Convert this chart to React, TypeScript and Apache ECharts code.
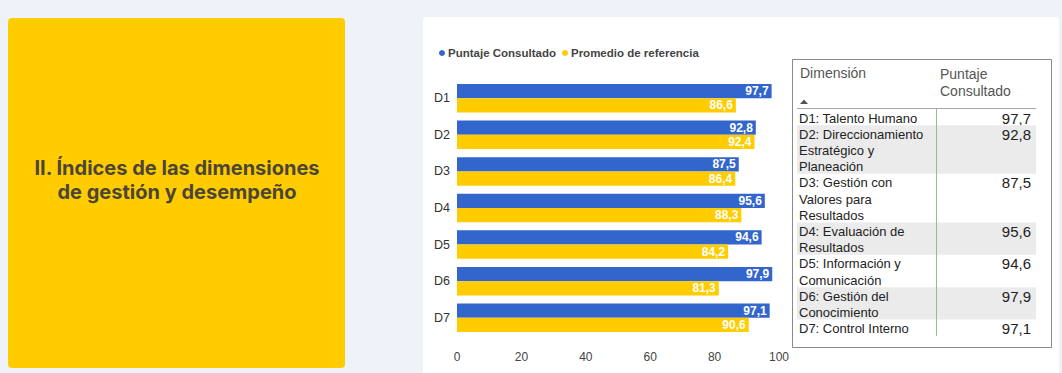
import React, { useEffect, useRef } from "react";
import * as echarts from "echarts";

const categories = ["D1", "D2", "D3", "D4", "D5", "D6", "D7"];
const puntajeConsultado = [97.7, 92.8, 87.5, 95.6, 94.6, 97.9, 97.1];
const promedioReferencia = [86.6, 92.4, 86.4, 88.3, 84.2, 81.3, 90.6];
const seriesNames = ["Puntaje Consultado", "Promedio de referencia"];
const dimensionNames = [
  "D1: Talento Humano",
  "D2: Direccionamiento Estratégico y Planeación",
  "D3: Gestión con Valores para Resultados",
  "D4: Evaluación de Resultados",
  "D5: Información y Comunicación",
  "D6: Gestión del Conocimiento",
  "D7: Control Interno",
];
const tableHeaders = ["Dimensión", "Puntaje Consultado"];
const titleLines = ["II. Índices de las dimensiones", "de gestión y desempeño"];
const xMin = 0;
const xMax = 100;
const xInterval = 20;

const fmt = (v: number) => v.toFixed(1).replace(".", ",");

const BODY_FONT = "13px 'Liberation Sans', Arial, sans-serif";

function wrapText(text: string, maxWidth: number, font: string): string[] {
  const c = document.createElement("canvas");
  const ctx = c.getContext("2d")!;
  ctx.font = font;
  const words = text.split(" ");
  const lines: string[] = [];
  let cur = "";
  for (const w of words) {
    const test = cur ? cur + " " + w : w;
    if (ctx.measureText(test).width > maxWidth && cur) {
      lines.push(cur);
      cur = w;
    } else {
      cur = test;
    }
  }
  if (cur) lines.push(cur);
  return lines;
}

export default function App() {
  const ref = useRef<HTMLDivElement>(null);

  useEffect(() => {
    if (!ref.current) return;
    const chart = echarts.init(ref.current, undefined, { renderer: "svg" });

    const graphics: any[] = [];
    titleLines.forEach((t, i) => {
      graphics.push({
        type: "text",
        x: 177,
        y: 167.5 + i * 24.6,
        style: {
          text: t,
          font: "bold 20px Inter, sans-serif",
          fill: "#4a4536",
          align: "center",
          verticalAlign: "middle",
          lineHeight: 22,
        },
      });
    });
    graphics.push({
      type: "rect",
      shape: { x: 792.5, y: 59.5, width: 259, height: 288 },
      style: { fill: "#fff", stroke: "#8a8a8a", lineWidth: 1 },
    });
    graphics.push({
      type: "text",
      x: 800,
      y: 66,
      style: {
        text: tableHeaders[0],
        font: "14px 'Liberation Sans', Arial, sans-serif",
        fill: "#555",
        align: "left",
        verticalAlign: "top",
      },
    });
    graphics.push({
      type: "text",
      x: 940,
      y: 65,
      style: {
        text: wrapText(tableHeaders[1], 90, "14px 'Liberation Sans', Arial").join("\n"),
        font: "14px 'Liberation Sans', Arial, sans-serif",
        fill: "#555",
        align: "left",
        verticalAlign: "top",
        lineHeight: 17,
      },
    });
    graphics.push({
      type: "polygon",
      shape: { points: [[800, 104], [808, 104], [804, 99.5]] },
      style: { fill: "#555" },
    });

    const lineH = 16.2;
    let top = 109;
    dimensionNames.forEach((name, i) => {
      const lines = wrapText(name, 134, BODY_FONT);
      const h = lines.length * lineH;
      if (i % 2 === 1) {
        graphics.push({
          type: "rect",
          shape: { x: 797, y: top, width: 239, height: h },
          style: { fill: "#ebebeb" },
        });
      }
      graphics.push({
        type: "text",
        x: 799,
        y: top + 1,
        style: {
          text: lines.join("\n"),
          font: BODY_FONT,
          fill: "#222",
          align: "left",
          verticalAlign: "top",
          lineHeight: lineH,
        },
      });
      graphics.push({
        type: "text",
        x: 1031,
        y: top + 1,
        style: {
          text: fmt(puntajeConsultado[i]),
          font: "15px 'Liberation Sans', Arial, sans-serif",
          fill: "#222",
          align: "right",
          verticalAlign: "top",
          lineHeight: lineH,
        },
      });
      top += h;
    });
    graphics.push({
      type: "line",
      shape: { x1: 797, y1: 108.5, x2: 1036, y2: 108.5 },
      style: { stroke: "#a8a8a8", lineWidth: 1 },
    });
    graphics.push({
      type: "line",
      shape: { x1: 936.5, y1: 108.5, x2: 936.5, y2: top },
      style: { stroke: "#8cc08c", lineWidth: 1 },
    });

    chart.setOption({
      animation: false,
      backgroundColor: "transparent",
      textStyle: { fontFamily: "'Liberation Sans', Arial, sans-serif" },
      legend: {
        left: 434,
        top: 42,
        icon: "circle",
        itemWidth: 6,
        itemHeight: 6,
        itemGap: 6,
        textStyle: { fontSize: 11.5, fontWeight: "bold", color: "#444", padding: [0, 0, 0, -2] },
        data: seriesNames,
      },
      grid: { left: 457, width: 322, top: 80, height: 256 },
      xAxis: {
        type: "value",
        min: xMin,
        max: xMax,
        interval: xInterval,
        axisLine: { show: false },
        axisTick: { show: false },
        splitLine: { show: false },
        axisLabel: { color: "#444", fontSize: 12, margin: 15 },
      },
      yAxis: {
        type: "category",
        inverse: true,
        data: categories,
        axisLine: { show: false },
        axisTick: { show: false },
        axisLabel: { color: "#333", fontSize: 12.5, margin: 7 },
      },
      series: [
        {
          name: seriesNames[0],
          type: "bar",
          data: puntajeConsultado,
          itemStyle: { color: "#3366cc" },
          barGap: "0%",
          barCategoryGap: "22%",
          label: {
            show: true,
            position: "insideRight",
            color: "#fff",
            fontWeight: "bold",
            fontSize: 12,
            distance: 3,
            formatter: (p: any) => fmt(p.value),
          },
        },
        {
          name: seriesNames[1],
          type: "bar",
          data: promedioReferencia,
          itemStyle: { color: "#ffcc00" },
          barGap: "0%",
          barCategoryGap: "22%",
          label: {
            show: true,
            position: "insideRight",
            color: "#fff",
            fontWeight: "bold",
            fontSize: 12,
            distance: 3,
            formatter: (p: any) => fmt(p.value),
          },
        },
      ],
      graphic: graphics,
    });
    return () => chart.dispose();
  }, []);

  return (
    <div style={{ position: "fixed", left: 0, top: 0, width: 1062, height: 373, background: "#eef3fa", overflow: "hidden" }}>
      <div style={{ position: "absolute", left: 8, top: 18, width: 337, height: 350, background: "#ffcc00", borderRadius: 4 }} />
      <div style={{ position: "absolute", left: 423, top: 17, width: 636, height: 370, background: "#fff", borderRadius: 4 }} />
      <div ref={ref} style={{ position: "absolute", left: 0, top: 0, width: 1062, height: 373 }} />
    </div>
  );
}
